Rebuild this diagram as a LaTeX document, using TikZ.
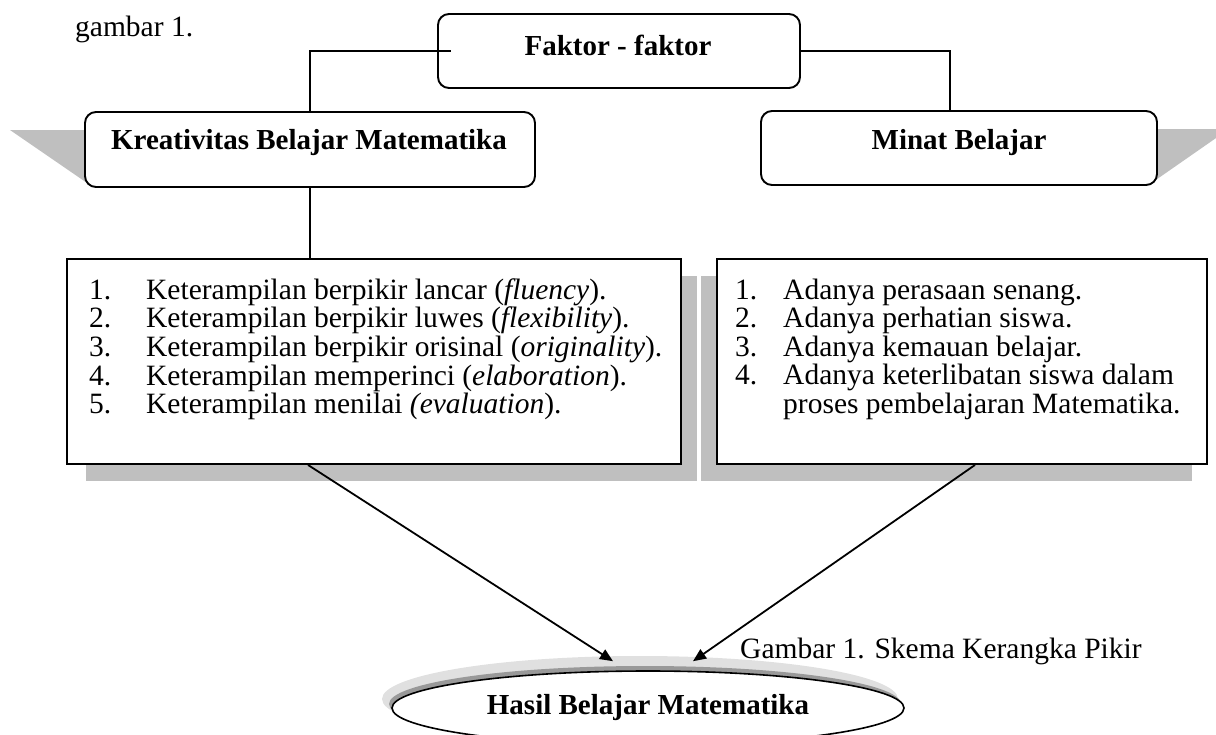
\documentclass[tikz,border=0pt]{standalone}
\usepackage{fontspec}
\setmainfont{Liberation Serif}
\usetikzlibrary{arrows.meta,shapes.geometric}
\tikzset{
 hbox/.style={draw, line width=1.9pt, rounded corners=11pt, fill=white, inner sep=0pt},
 htext/.style={font=\fontsize{29}{27}\selectfont\bfseries, inner sep=0pt},
 lbox/.style={draw, line width=1.9pt, fill=white, inner sep=0pt},
 shade/.style={fill=black!25},
 conn/.style={line width=1.8pt},
 arr/.style={line width=1.8pt, -{Triangle[length=13pt,width=11pt]}},
 ltext/.style={font=\fontsize{29.5}{27}\selectfont, inner sep=0pt, anchor=base west, align=left},
}
\begin{document}
\begin{tikzpicture}[x=1pt,y=-1pt]
\path[use as bounding box] (0,0) rectangle (1216,734);
\clip (0,0) rectangle (1216,734);
% caption fragment at top
\node[ltext] (g1) at (75,36) {gambar 1.};
% heading shadows
\fill[shade] (10,130) -- (90,130) -- (90,185) -- cycle;
\fill[shade] (1150,129) -- (1229,129) -- (1150,184) -- cycle;
% heading boxes
\node[hbox, minimum width=362pt, minimum height=74pt] (F) at (619,51) {};
\node[htext] (Ft) at (618,45) {Faktor - faktor};
\node[hbox, minimum width=450pt, minimum height=75pt] (K) at (310,149.5) {};
\node[htext] (Kt) at (309,143) {Kreativitas Belajar Matematika};
\node[hbox, minimum width=396pt, minimum height=74pt] (M) at (959,148) {};
\node[htext] (Mt) at (959,143) {Minat Belajar};
% list shadows
\fill[shade] (86,276) rectangle (697,481);
\fill[shade] (701,276) rectangle (1192,481);
% list boxes
\node[lbox, minimum width=614pt, minimum height=205pt] (L) at (374,361.5) {};
\node[lbox, minimum width=490pt, minimum height=205pt] (R) at (962,361.5) {};
\node[ltext] (Lt) at (89,299) {\begin{tabular}[t]{@{}p{57pt}@{}l@{}}
1. & Keterampilan berpikir lancar (\textit{fluency}).\\
2. & Keterampilan berpikir luwes (\textit{flexibility}).\\
3. & Keterampilan berpikir orisinal (\textit{originality}).\\
4. & Keterampilan memperinci (\textit{elaboration}).\\
5. & Keterampilan menilai \textit{(evaluation}).
\end{tabular}};
\node[ltext] (Rt) at (735,299) {\begin{tabular}[t]{@{}p{48pt}@{}l@{}}
1. & Adanya perasaan senang.\\
2. & Adanya perhatian siswa.\\
3. & Adanya kemauan belajar.\\
4. & Adanya keterlibatan siswa dalam\\
 & proses pembelajaran Matematika.
\end{tabular}};
% connectors
\coordinate (mj) at ([xshift=-9pt]M.north);
\draw[conn] (K.north) -- (K.north |- F.west) -- ([xshift=14pt]F.west);
\draw[conn] (F.east) -- (mj |- F.east) -- (mj);
\draw[conn] (K.south) -- (K.south |- L.north);
% result ellipse
\fill[black!12] (640,699) ellipse [x radius=258pt, y radius=43pt];
\fill[black!40] (645,704) ellipse [x radius=256pt, y radius=38pt];
\node[draw, ellipse, line width=1.6pt, fill=white, minimum width=512pt, minimum height=74pt, inner sep=0pt] (H) at (648,708) {};
\node[htext] (Ht) at (648,708) {Hasil Belajar Matematika};
\coordinate (t1) at ([xshift=-35pt,yshift=9pt]H.north);
\coordinate (t2) at ([xshift=45pt,yshift=9pt]H.north);
\draw[arr] ([xshift=-66pt]L.south) -- (t1);
\draw[arr] ([xshift=13pt]R.south) -- (t2);
\node[ltext] (cap) at (740,658) {Gambar 1. Skema Kerangka Pikir};
\end{tikzpicture}
\end{document}
